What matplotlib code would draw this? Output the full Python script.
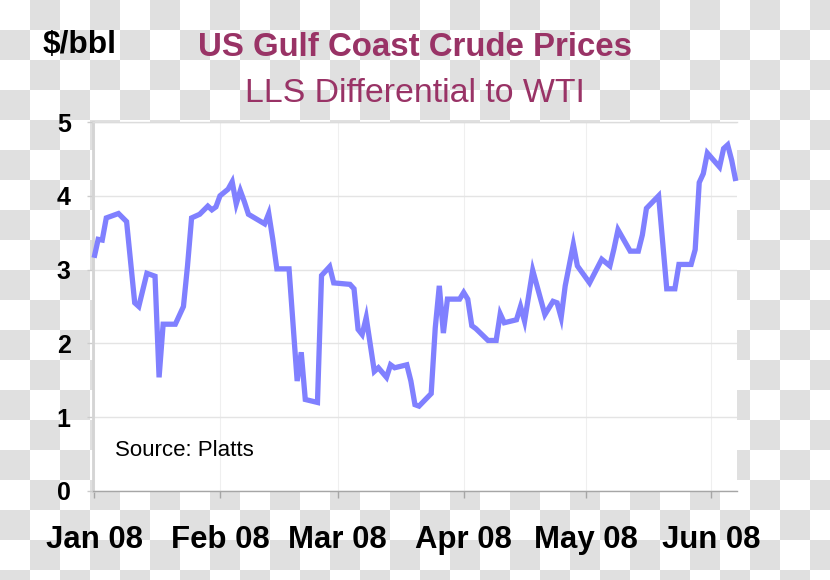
import matplotlib
matplotlib.use("Agg")
import matplotlib.pyplot as plt
import numpy as np
import pandas as pd
from matplotlib import font_manager

# ---------------- data ----------------
dates = [
    "2008-01-01", "2008-01-02", "2008-01-03", "2008-01-04", "2008-01-07", "2008-01-09",
    "2008-01-11", "2008-01-12", "2008-01-14", "2008-01-16", "2008-01-17", "2008-01-18",
    "2008-01-21", "2008-01-23", "2008-01-24", "2008-01-25", "2008-01-27", "2008-01-29",
    "2008-01-30", "2008-01-31", "2008-02-01", "2008-02-03", "2008-02-04", "2008-02-05",
    "2008-02-06", "2008-02-07", "2008-02-08", "2008-02-12", "2008-02-13", "2008-02-14",
    "2008-02-15", "2008-02-18", "2008-02-20", "2008-02-21", "2008-02-22", "2008-02-25",
    "2008-02-26", "2008-02-28", "2008-02-29", "2008-03-04", "2008-03-05", "2008-03-06",
    "2008-03-07", "2008-03-08", "2008-03-10", "2008-03-11", "2008-03-13", "2008-03-14",
    "2008-03-15", "2008-03-18", "2008-03-19", "2008-03-20", "2008-03-21", "2008-03-24",
    "2008-03-25", "2008-03-26", "2008-03-27", "2008-03-28", "2008-03-31", "2008-04-01",
    "2008-04-02", "2008-04-03", "2008-04-04", "2008-04-07", "2008-04-09", "2008-04-10",
    "2008-04-11", "2008-04-14", "2008-04-15", "2008-04-16", "2008-04-18", "2008-04-21",
    "2008-04-23", "2008-04-24", "2008-04-25", "2008-04-26", "2008-04-28", "2008-04-29",
    "2008-05-02", "2008-05-05", "2008-05-07", "2008-05-08", "2008-05-09", "2008-05-12",
    "2008-05-14", "2008-05-15", "2008-05-16", "2008-05-19", "2008-05-21", "2008-05-23",
    "2008-05-24", "2008-05-27", "2008-05-28", "2008-05-29", "2008-05-30", "2008-05-31",
    "2008-06-03", "2008-06-04", "2008-06-05", "2008-06-06", "2008-06-07",
]
lls_wti = [
    3.16, 3.41, 3.40, 3.70, 3.76, 3.65,
    2.55, 2.50, 2.95, 2.91, 1.54, 2.26,
    2.26, 2.50, 3.05, 3.70, 3.75, 3.86,
    3.81, 3.85, 4.00, 4.09, 4.19, 3.89,
    4.07, 3.92, 3.75, 3.62, 3.76, 3.41,
    3.01, 3.01, 1.49, 1.88, 1.24, 1.20,
    2.92, 3.04, 2.82, 2.80, 2.74, 2.19,
    2.12, 2.35, 1.62, 1.67, 1.54, 1.71,
    1.67, 1.71, 1.49, 1.17, 1.15, 1.32,
    2.21, 2.78, 2.14, 2.60, 2.60, 2.69,
    2.60, 2.24, 2.20, 2.04, 2.04, 2.40,
    2.28, 2.32, 2.50, 2.30, 2.99, 2.39,
    2.57, 2.55, 2.35, 2.78, 3.34, 3.05,
    2.82, 3.14, 3.05, 3.28, 3.54, 3.25,
    3.25, 3.47, 3.83, 4.00, 2.74, 2.74,
    3.07, 3.07, 3.27, 4.18, 4.30, 4.58,
    4.39, 4.64, 4.69, 4.48, 4.20,
]
month_ticks = ["2008-01-01", "2008-02-01", "2008-03-01", "2008-04-01", "2008-05-01", "2008-06-01"]
month_labels = ["Jan 08", "Feb 08", "Mar 08", "Apr 08", "May 08", "Jun 08"]
y_ticks = [0, 1, 2, 3, 4, 5]
y_labels = ["0", "1", "2", "3", "4", "5"]

title = "US Gulf Coast Crude Prices"
subtitle = "LLS Differential to WTI"
unit_label = "$/bbl"
source_note = "Source: Platts"

# ---------------- style ----------------
plt.rcParams["font.family"] = ["Liberation Sans", "DejaVu Sans"]
names = {f.name for f in font_manager.fontManager.ttflist}
has_narrow = "Liberation Sans Narrow" in names

W, H = 830, 580
fig = plt.figure(figsize=(W / 100, H / 100), dpi=100)
fig.patch.set_facecolor("white")

# checkerboard background as in the reference image
yy, xx = np.mgrid[0:H, 0:W]
grey = ((xx // 30 + yy // 30) % 2 == 1)
bgv = np.where(grey, 224, 255).astype(np.uint8)
fig.figimage(np.dstack([bgv, bgv, bgv]), xo=0, yo=0, origin="upper", zorder=-10)

ax = fig.add_axes([93 / W, 89 / H, 644 / W, 369 / H])
ax.set_facecolor("white")

x = pd.to_datetime(dates)
ax.plot(x, lls_wti, color="#8080ff", lw=3.8, solid_joinstyle="miter",
        solid_capstyle="butt", clip_on=False, zorder=3)

start = pd.Timestamp("2008-01-01")
ax.set_xlim(start - pd.Timedelta(hours=6.5), start + pd.Timedelta(days=158.3))
ax.set_ylim(0, 5)

ax.set_yticks(y_ticks)
ax.set_yticklabels(y_labels, fontsize=18, fontweight="bold")
ax.set_xticks(pd.to_datetime(month_ticks))
if has_narrow:
    ax.set_xticklabels(month_labels, fontsize=28.5, fontweight="bold",
                       family=["Liberation Sans Narrow", "Liberation Sans"])
    xpad = 18
else:
    ax.set_xticklabels(month_labels, fontsize=22.4, fontweight="bold")
    xpad = 19.5

ax.grid(axis="y", color="#e4e4e4", lw=1.0)
ax.grid(axis="x", color="#efefef", lw=0.8)
ax.set_axisbelow(True)

ax.spines["left"].set_color("#d4d4d4")
ax.spines["left"].set_linewidth(2.0)
ax.spines["bottom"].set_color("#a6a6a6")
ax.spines["bottom"].set_linewidth(1.0)
ax.spines["top"].set_color("#dcdcdc")
ax.spines["top"].set_linewidth(1.0)
ax.spines["right"].set_visible(False)

ax.tick_params(axis="x", direction="out", length=5, width=1, color="#a6a6a6", pad=xpad)
ax.tick_params(axis="y", direction="out", length=4, width=1, color="#cccccc", pad=12)

ax.text(22 / 644, 35 / 369, source_note, transform=ax.transAxes, fontsize=16,
        ha="left", va="baseline", color="black")

fig.text(43 / W, 1 - 53.5 / H, unit_label, fontsize=22.8, fontweight="bold",
         ha="left", va="baseline", parse_math=False)
fig.text(414.5 / W, 1 - 56 / H, title, fontsize=23.8, fontweight="bold",
         color="#993366", ha="center", va="baseline")
fig.text(415 / W, 1 - 101.7 / H, subtitle, fontsize=24.4,
         color="#993366", ha="center", va="baseline")

fig.savefig("out.png", dpi=100)
